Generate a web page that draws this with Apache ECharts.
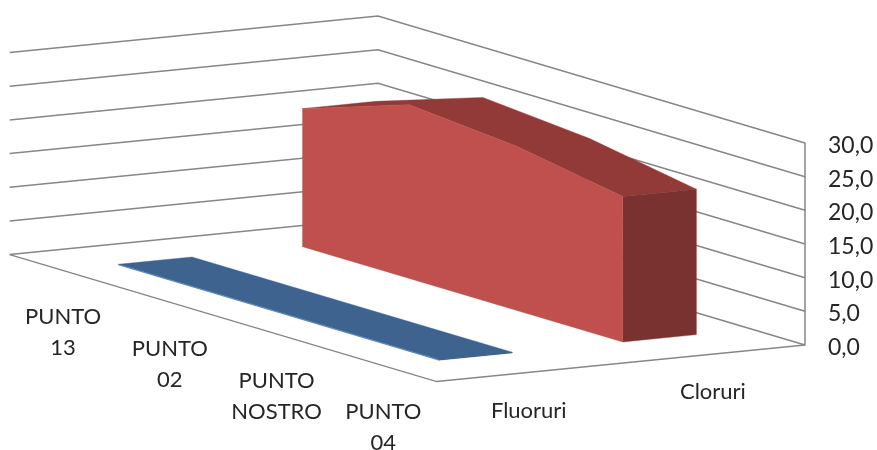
<!DOCTYPE html>
<html>
<head>
<meta charset="utf-8">
<style>html,body{margin:0;padding:0;background:#fff}#chart{width:877px;height:450px}</style>
<script src="https://cdn.jsdelivr.net/npm/echarts@6/dist/echarts.min.js"></script>
</head>
<body>
<div id="chart"></div>
<script>
// Measurements per sampling point, one list per parameter
var categories = ['PUNTO\n13', 'PUNTO\n02', 'PUNTO\nNOSTRO', 'PUNTO\n04'];
var seriesNames = ['Fluoruri', 'Cloruri'];
var fluoruri = [0.1, 0.1, 0.1, 0.1];
var cloruri = [20.5, 25.8, 24.4, 21.6];
var valueTicks = [0, 5, 10, 15, 20, 25, 30];

var FONT = '22px Lato';
var TEXT_COLOR = '#262626';
var WALL_COLOR = '#868686';
var WALL_WIDTH = 1.5;

// Oblique box: pixel vectors spanned by the category and series floor edges
var CAT_EDGE = [427, 127];
var SERIES_EDGE = [368.3, -36.6];
var BAND_DEPTH = 0.2;   // depth of a ribbon, as a share of the series edge

var SKINS = [
  { front: '#4f81bd', top: '#3e638f', side: '#345478' },
  { front: '#c0504d', top: '#923a38', side: '#7a3230' }
];

// u runs along the categories, d runs front to back, v is a value on the y axis
function project(api, u, d, v) {
  var corner = api.coord([1, v]);
  return [
    corner[0] + (u - 1) * CAT_EDGE[0] + (d - 1) * SERIES_EDGE[0],
    corner[1] + (u - 1) * CAT_EDGE[1] + (d - 1) * SERIES_EDGE[1]
  ];
}
function catCentre(i) { return (i + 0.5) / categories.length; }
function seriesCentre(i) { return (i + 0.5) / seriesNames.length; }

function poly(points, fill) {
  return { type: 'polygon', shape: { points: points }, style: { fill: fill, stroke: fill, lineWidth: 0.4 } };
}
function outline(points) {
  return { type: 'polyline', shape: { points: points }, style: { stroke: WALL_COLOR, lineWidth: WALL_WIDTH, fill: null } };
}

// One wall line per value tick, plus the two front edges of the floor
function renderWalls(params, api) {
  var v = api.value(0);
  var elements = [outline([project(api, 0, 0, v), project(api, 0, 1, v), project(api, 1, 1, v)])];
  if (v === 0) {
    elements.push(outline([project(api, 0, 0, 0), project(api, 1, 0, 0), project(api, 1, 1, 0)]));
  }
  return { type: 'group', children: elements };
}

// A ribbon of the 3D area chart: top surface, end cap, front face
function renderRibbon(params, api) {
  var s = api.value(0);
  var skin = SKINS[s];
  var dFront = seriesCentre(s) - BAND_DEPTH / 2;
  var dBack = seriesCentre(s) + BAND_DEPTH / 2;
  var values = categories.map(function (_, i) { return api.value(i + 1); });
  var last = values.length - 1, uFirst = catCentre(0), uLast = catCentre(last);

  function edge(d) {
    return values.map(function (v, i) { return project(api, catCentre(i), d, v); });
  }

  var top = edge(dFront).concat(edge(dBack).reverse());
  var side = [
    project(api, uLast, dFront, values[last]), project(api, uLast, dBack, values[last]),
    project(api, uLast, dBack, 0), project(api, uLast, dFront, 0)
  ];
  var front = edge(dFront).concat([project(api, uLast, dFront, 0), project(api, uFirst, dFront, 0)]);

  return { type: 'group', children: [poly(top, skin.top), poly(side, skin.side), poly(front, skin.front)] };
}

function textEl(text, pos) {
  return {
    type: 'text',
    style: { text: text, x: pos[0], y: pos[1], font: FONT, fill: TEXT_COLOR,
             align: 'center', verticalAlign: 'middle', lineHeight: 31 }
  };
}

// Category names sit below the front floor edge
function renderCategoryLabel(params, api) {
  var p = project(api, catCentre(params.dataIndex), 0, 0);
  return textEl(categories[params.dataIndex], [p[0], p[1] + 62]);
}
// Series names sit below the right floor edge
function renderSeriesLabel(params, api) {
  var p = project(api, 1, seriesCentre(params.dataIndex), 0);
  return textEl(seriesNames[params.dataIndex], [p[0], p[1] + 38]);
}

var chart = echarts.init(document.getElementById('chart'), null, { renderer: 'canvas' });
chart.setOption({
  animation: false,
  backgroundColor: '#ffffff',
  grid: { left: 10, right: 72, top: 143, bottom: 105 },
  xAxis: { type: 'value', min: 0, max: 1, show: false },
  yAxis: {
    type: 'value', position: 'right', min: 0, max: 30, interval: 5,
    splitLine: { show: false },
    axisTick: { show: false },
    axisLine: { show: true, onZero: false, lineStyle: { color: WALL_COLOR, width: WALL_WIDTH } },
    axisLabel: {
      margin: 23, fontFamily: 'Lato', fontSize: 23, color: TEXT_COLOR,
      verticalAlign: 'top', lineHeight: 5,
      formatter: function (v) { return v.toFixed(1).replace('.', ','); }
    }
  },
  series: [
    { type: 'custom', name: 'walls', silent: true, clip: false, z: 1,
      renderItem: renderWalls, data: valueTicks.map(function (v) { return [v]; }) },
    { type: 'custom', name: seriesNames[1], silent: true, clip: false, z: 2,
      renderItem: renderRibbon, data: [[1].concat(cloruri)] },
    { type: 'custom', name: seriesNames[0], silent: true, clip: false, z: 3,
      renderItem: renderRibbon, data: [[0].concat(fluoruri)] },
    { type: 'custom', name: 'categoryLabels', silent: true, clip: false, z: 4,
      renderItem: renderCategoryLabel, data: categories.map(function (c, i) { return [i]; }) },
    { type: 'custom', name: 'seriesLabels', silent: true, clip: false, z: 4,
      renderItem: renderSeriesLabel, data: seriesNames.map(function (c, i) { return [i]; }) }
  ]
});
</script>
</body>
</html>
